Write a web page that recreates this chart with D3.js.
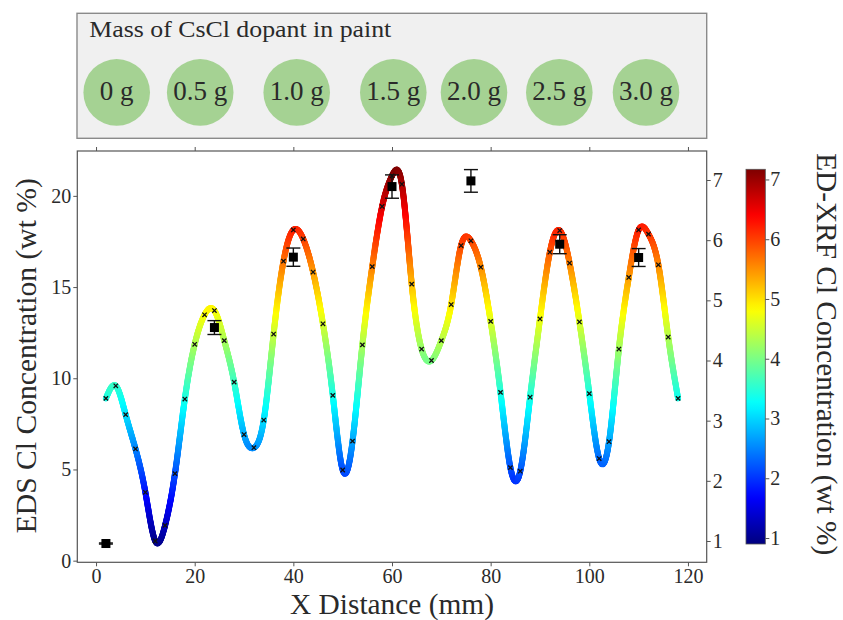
<!DOCTYPE html>
<html>
<head>
<meta charset="utf-8">
<script src="https://cdn.jsdelivr.net/npm/d3@7"></script>
<style>
  body { margin: 0; background: #fff; }
  text { font-family: "Liberation Serif", "DejaVu Serif", serif; fill: #2a2a2a; }
</style>
</head>
<body>
<svg id="chart" width="843" height="620"></svg>
<script>
// ED-XRF line scan (wt % Cl), one reading every 2 mm
var xrfX = [2, 4, 6, 8, 10, 12, 14, 16, 18, 20, 22, 24, 26, 28, 30, 32, 34, 36, 38, 40,
            42, 44, 46, 48, 50, 52, 54, 56, 58, 60, 62, 64, 66, 68, 70, 72, 74, 76, 78, 80,
            82, 84, 86, 88, 90, 92, 94, 96, 98, 100, 102, 104, 106, 108, 110, 112, 114, 116, 118];
var xrfCl = [3.37, 3.58, 3.10, 2.53, 1.81, 1.0, 1.26, 2.12, 3.36, 4.27, 4.76, 4.83, 4.33, 3.64, 2.77, 2.55, 3.01, 4.44, 5.65, 6.17,
             6.02, 5.47, 4.61, 3.42, 2.18, 2.66, 4.26, 5.56, 6.56, 7.07, 6.93, 5.27, 4.19, 4.00, 4.33, 4.93, 5.91, 5.99, 5.55, 4.65,
             3.47, 2.22, 2.16, 3.39, 4.69, 5.80, 6.16, 5.62, 4.64, 3.45, 2.37, 2.65, 4.19, 5.38, 6.17, 6.10, 5.59, 4.39, 3.37];

// EDS spot measurements (wt % Cl) with error
var edsX   = [2, 24, 40, 60, 76, 94, 110];
var edsCl  = [0.94, 12.78, 16.64, 20.51, 20.82, 17.35, 16.62];
var edsErr = [0.03, 0.38, 0.50, 0.64, 0.62, 0.52, 0.49];

// dopant mass labels
var dopant = ["0 g", "0.5 g", "1.0 g", "1.5 g", "2.0 g", "2.5 g", "3.0 g"];

var xTicks = [0, 20, 40, 60, 80, 100, 120];
var leftTicks = [0, 5, 10, 15, 20];
var rightTicks = [1, 2, 3, 4, 5, 6, 7];
var colorRange = [0.9, 7.17];

// ---- layout ----
var plot = { left: 77.3, right: 706.7, top: 151, bottom: 562.3 };
var legendCx = [116.7, 200.2, 296.7, 393.3, 474, 559.3, 646];
var cbar = { x: 746, w: 19.3, top: 169.3, bottom: 544 };

var svg = d3.select("#chart");

var x = d3.scaleLinear().domain([-3.8, 123.8]).range([plot.left, plot.right]);
var yL = d3.scaleLinear().domain([-0.09, 22.46]).range([plot.bottom, plot.top]);
var yR = d3.scaleLinear().domain([0.646, 7.482]).range([plot.bottom, plot.top]);

// jet colormap
var jet = d3.scaleLinear()
  .domain([0, 0.125, 0.375, 0.625, 0.875, 1])
  .range(["#00007f", "#0000ff", "#00ffff", "#ffff00", "#ff0000", "#7f0000"])
  .clamp(true);
var cnorm = d3.scaleLinear().domain(colorRange).range([0, 1]).clamp(true);
function colorOf(v) { return jet(cnorm(v)); }

// ---- legend box ----
var leg = svg.append("g");
leg.append("rect")
  .attr("x", 77).attr("y", 13.3).attr("width", 629.7).attr("height", 125)
  .attr("fill", "#f0f0f0").attr("stroke", "#8a8a8a").attr("stroke-width", 1.4);
leg.append("text")
  .attr("x", 89.3).attr("y", 37.3)
  .attr("font-size", 23)
  .attr("textLength", 302).attr("lengthAdjust", "spacingAndGlyphs")
  .text("Mass of CsCl dopant in paint");
var chip = leg.selectAll(".chip").data(dopant).enter().append("g")
  .attr("class", "chip")
  .attr("transform", function(d, i) { return "translate(" + legendCx[i] + ",92.4)"; });
chip.append("circle").attr("r", 33.3).attr("fill", "#a5d293");
chip.append("text")
  .attr("y", 7.2)
  .attr("text-anchor", "middle")
  .attr("font-size", 27)
  .text(function(d) { return d; });

// ---- axes ----
function styleAxis(g) {
  g.select(".domain").remove();
  g.selectAll(".tick line").attr("stroke", "#555").attr("stroke-width", 1);
  g.selectAll(".tick text").attr("font-size", 20).attr("fill", "#2a2a2a")
    .style("font-family", '"Liberation Serif", "DejaVu Serif", serif');
}
var fmt = d3.format("d");

svg.append("g").attr("transform", "translate(0," + plot.bottom + ")")
  .call(d3.axisBottom(x).tickValues(xTicks).tickSize(4).tickPadding(3).tickFormat(fmt))
  .call(styleAxis);
svg.append("g").attr("transform", "translate(0," + plot.top + ")")
  .call(d3.axisTop(x).tickValues(xTicks).tickSize(4).tickFormat(""))
  .call(styleAxis);
svg.append("g").attr("transform", "translate(" + plot.left + ",0)")
  .call(d3.axisLeft(yL).tickValues(leftTicks).tickSize(4).tickPadding(2).tickFormat(fmt))
  .call(styleAxis);
svg.append("g").attr("transform", "translate(" + plot.right + ",0)")
  .call(d3.axisRight(yR).tickValues(rightTicks).tickSize(4).tickPadding(2).tickFormat(fmt))
  .call(styleAxis);

svg.append("rect")
  .attr("x", plot.left).attr("y", plot.top)
  .attr("width", plot.right - plot.left).attr("height", plot.bottom - plot.top)
  .attr("fill", "none").attr("stroke", "#555").attr("stroke-width", 1.2);

// axis titles
svg.append("text")
  .attr("transform", "translate(36,355.7) rotate(-90)")
  .attr("text-anchor", "middle").attr("font-size", 29)
  .attr("textLength", 355).attr("lengthAdjust", "spacingAndGlyphs")
  .text("EDS Cl Concentration (wt %)");
svg.append("text")
  .attr("x", (plot.left + plot.right) / 2).attr("y", 614)
  .attr("text-anchor", "middle").attr("font-size", 29)
  .attr("textLength", 204).attr("lengthAdjust", "spacingAndGlyphs")
  .text("X Distance (mm)");

// ---- XRF curve, coloured by its own value ----
var pts = xrfX.map(function(d, i) { return { x: d, v: xrfCl[i] }; });
var line = d3.line()
  .x(function(d) { return x(d.x); })
  .y(function(d) { return yR(d.v); })
  .curve(d3.curveNatural);

var guide = svg.append("path").attr("d", line(pts)).attr("fill", "none").attr("stroke", "none");
var node = guide.node();
var total = node.getTotalLength();
var samples = [];
for (var s = 0; s <= total; s += 1) samples.push(node.getPointAtLength(s));
samples.push(node.getPointAtLength(total));

var curveG = svg.append("g");
for (var k = 1; k < samples.length; k++) {
  var a = samples[k - 1], b = samples[k];
  curveG.append("line")
    .attr("x1", a.x).attr("y1", a.y).attr("x2", b.x).attr("y2", b.y)
    .attr("stroke", colorOf(yR.invert((a.y + b.y) / 2)))
    .attr("stroke-width", 6)
    .attr("stroke-linecap", "round");
}

// crosses at each XRF reading
svg.append("g").selectAll("path").data(pts).enter().append("path")
  .attr("transform", function(d) { return "translate(" + x(d.x) + "," + yR(d.v) + ")"; })
  .attr("d", d3.symbol().type(d3.symbolX).size(14))
  .attr("fill", "none").attr("stroke", "#111").attr("stroke-width", 1.3);

// ---- EDS squares with error bars ----
var eds = edsX.map(function(d, i) { return { x: d, v: edsCl[i], e: edsErr[i] }; });
var eg = svg.append("g").selectAll("g").data(eds).enter().append("g");
eg.append("line")
  .attr("x1", function(d) { return x(d.x); }).attr("x2", function(d) { return x(d.x); })
  .attr("y1", function(d) { return yL(d.v - d.e); }).attr("y2", function(d) { return yL(d.v + d.e); })
  .attr("stroke", "#111").attr("stroke-width", 1.4);
[-1, 1].forEach(function(sgn) {
  eg.append("line")
    .attr("x1", function(d) { return x(d.x) - 7; }).attr("x2", function(d) { return x(d.x) + 7; })
    .attr("y1", function(d) { return yL(d.v + sgn * d.e); }).attr("y2", function(d) { return yL(d.v + sgn * d.e); })
    .attr("stroke", "#111").attr("stroke-width", 1.4);
});
eg.append("rect")
  .attr("x", function(d) { return x(d.x) - 4.5; }).attr("y", function(d) { return yL(d.v) - 4.5; })
  .attr("width", 9).attr("height", 9).attr("fill", "#000");

// ---- colour bar ----
var cy = d3.scaleLinear().domain(colorRange).range([cbar.bottom, cbar.top]);
var grad = svg.append("defs").append("linearGradient")
  .attr("id", "jetgrad").attr("x1", 0).attr("y1", 1).attr("x2", 0).attr("y2", 0);
grad.selectAll("stop").data(d3.range(0, 1.0001, 0.02)).enter().append("stop")
  .attr("offset", function(d) { return d; })
  .attr("stop-color", function(d) { return jet(d); });
svg.append("rect")
  .attr("x", cbar.x).attr("y", cbar.top).attr("width", cbar.w).attr("height", cbar.bottom - cbar.top)
  .attr("fill", "url(#jetgrad)").attr("stroke", "#555").attr("stroke-width", 0.8);
svg.append("g").attr("transform", "translate(" + (cbar.x + cbar.w) + ",0)")
  .call(d3.axisRight(cy).tickValues(rightTicks).tickSize(4).tickPadding(1).tickFormat(fmt))
  .call(styleAxis);

svg.append("text")
  .attr("transform", "translate(816.7,354.2) rotate(90)")
  .attr("text-anchor", "middle").attr("font-size", 29)
  .attr("textLength", 402).attr("lengthAdjust", "spacingAndGlyphs")
  .text("ED-XRF Cl Concentration (wt %)");
</script>
</body>
</html>
